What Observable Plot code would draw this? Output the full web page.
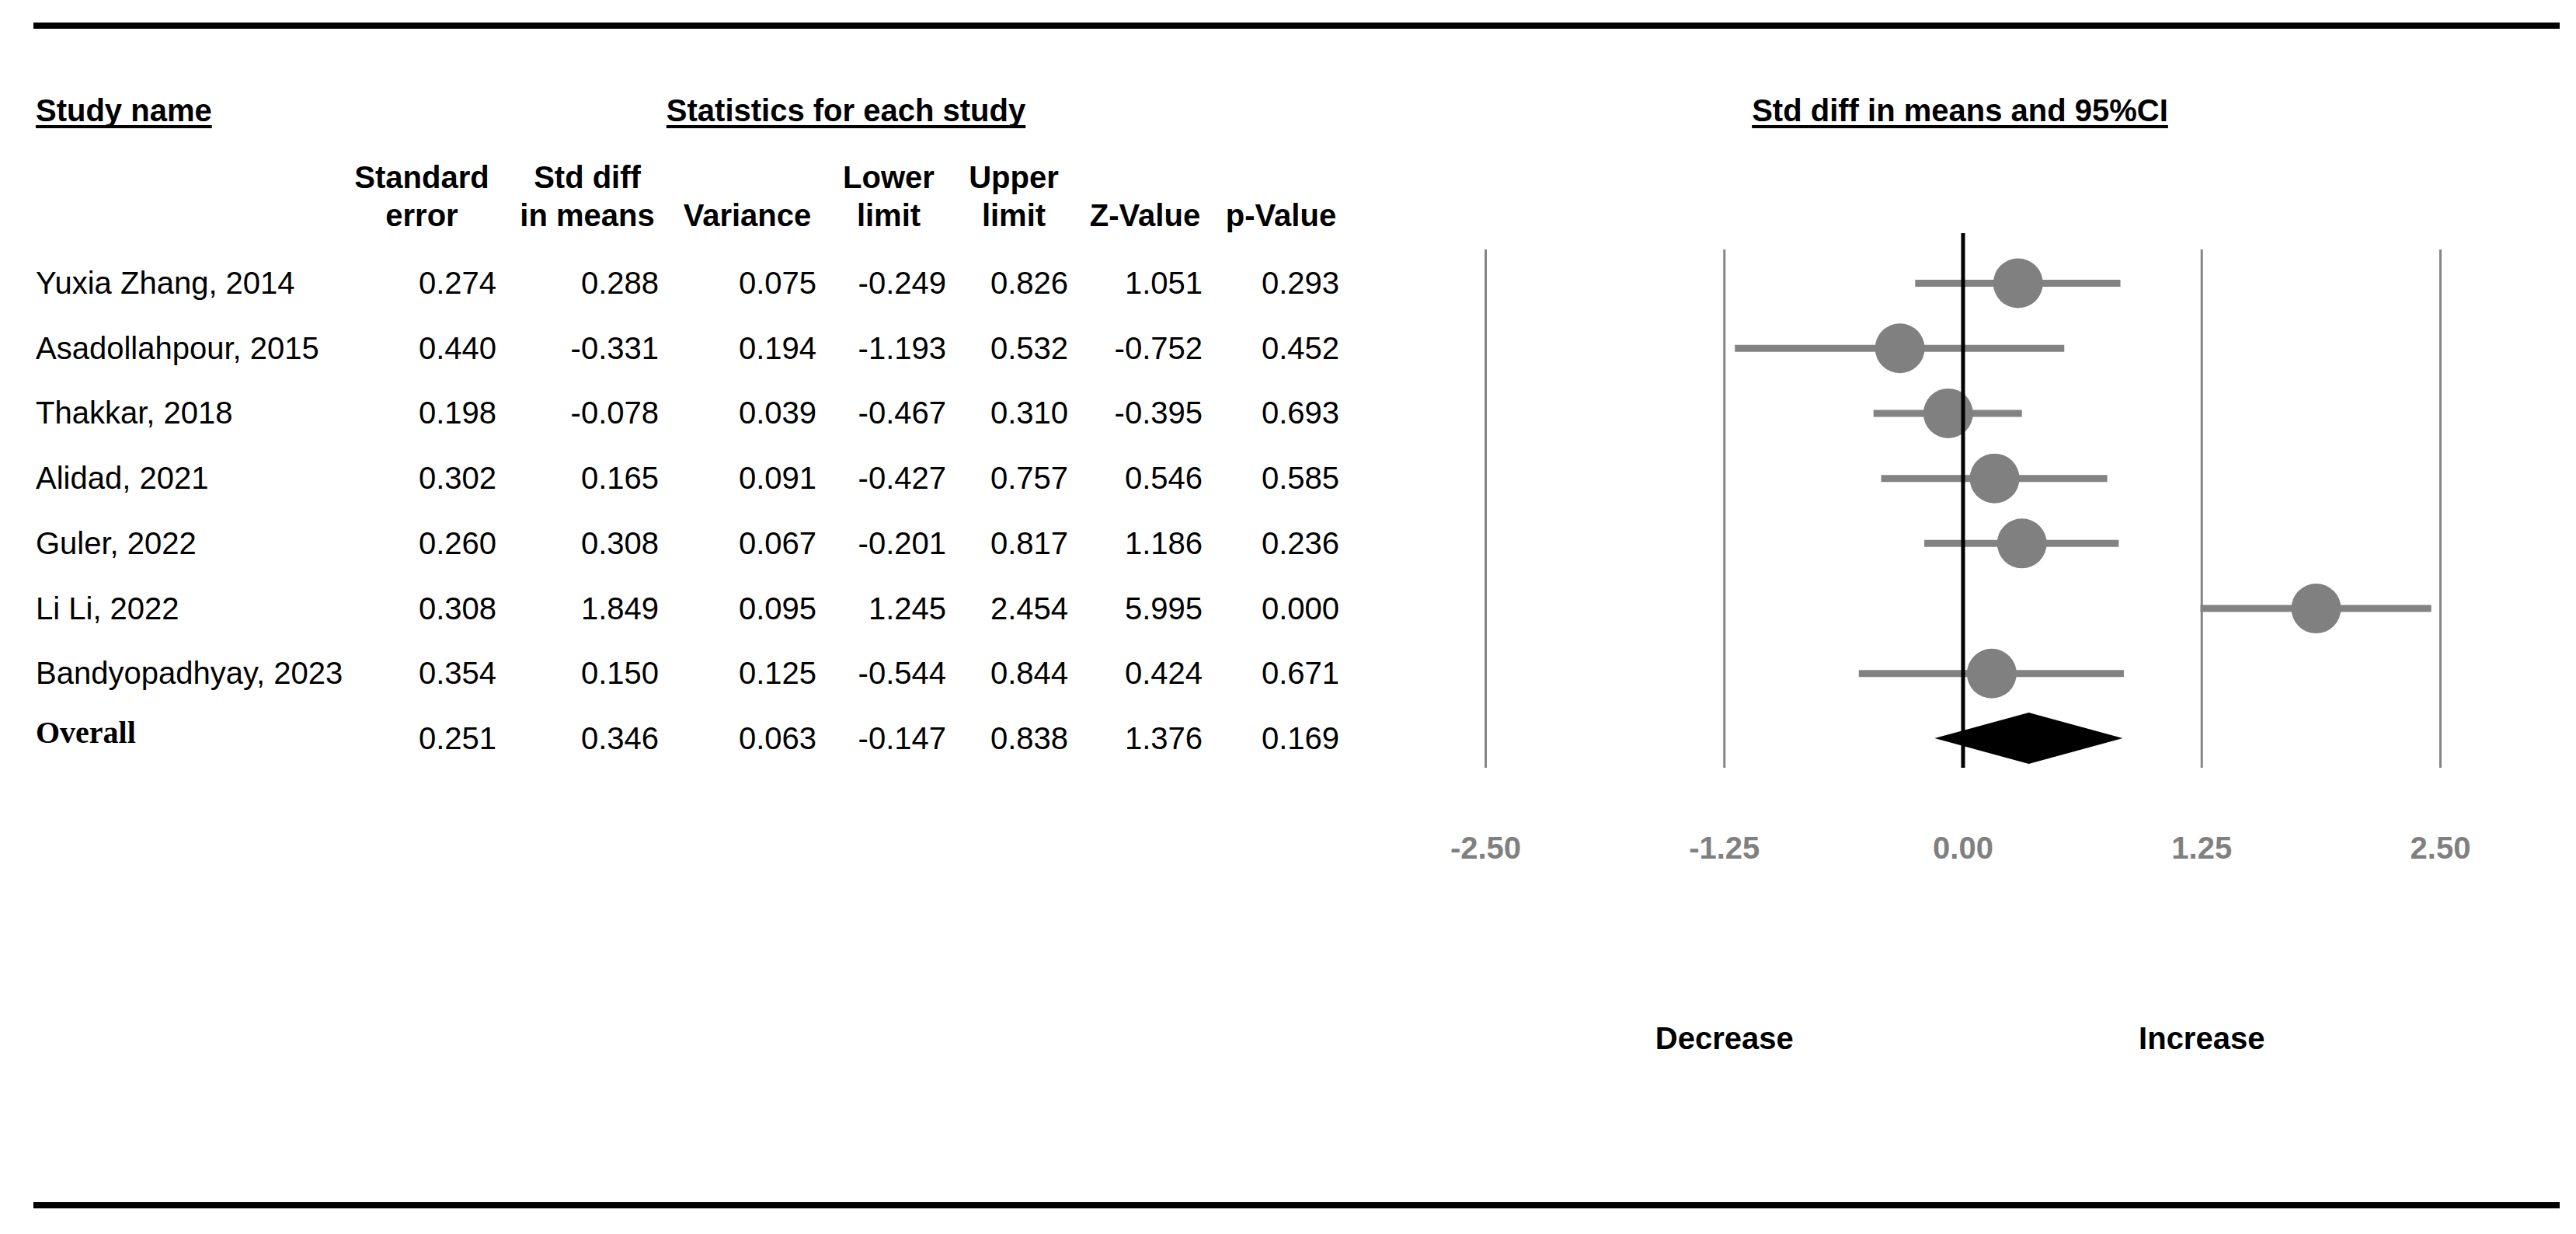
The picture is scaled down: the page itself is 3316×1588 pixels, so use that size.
<!DOCTYPE html>
<html>
<head>
<meta charset="utf-8">
<script src="https://cdn.jsdelivr.net/npm/d3@7"></script>
<script src="https://cdn.jsdelivr.net/npm/@observablehq/plot@0.6"></script>
<style>
html, body { margin: 0; padding: 0; background: #fff; }
#page { position: relative; width: 3316px; height: 1588px; overflow: hidden; background: #fff;
  font-family: "Liberation Sans", Arial, Helvetica, sans-serif; color: #000; }
#page svg { position: absolute; left: 0; top: 0; }
.rule { position: absolute; background: #000; }
.t { position: absolute; font-size: 40px; line-height: 40px; white-space: nowrap; }
.b { font-weight: bold; }
.u { text-decoration: underline; text-decoration-thickness: 4px; text-underline-offset: 5px; text-decoration-skip-ink: none; }
.serif { font-family: "Liberation Serif", "Times New Roman", serif; font-weight: bold; }
</style>
</head>
<body>
<div id="page"></div>
<script>
// ---- data ----
const studies = ["Yuxia Zhang, 2014", "Asadollahpour, 2015", "Thakkar, 2018", "Alidad, 2021",
  "Guler, 2022", "Li Li, 2022", "Bandyopadhyay, 2023", "Overall"];
const stdError = [0.274, 0.440, 0.198, 0.302, 0.260, 0.308, 0.354, 0.251];
const stdDiff  = [0.288, -0.331, -0.078, 0.165, 0.308, 1.849, 0.150, 0.346];
const variance = [0.075, 0.194, 0.039, 0.091, 0.067, 0.095, 0.125, 0.063];
const lowerLimit = [-0.249, -1.193, -0.467, -0.427, -0.201, 1.245, -0.544, -0.147];
const upperLimit = [0.826, 0.532, 0.310, 0.757, 0.817, 2.454, 0.844, 0.838];
const zValue = [1.051, -0.752, -0.395, 0.546, 1.186, 5.995, 0.424, 1.376];
const pValue = [0.293, 0.452, 0.693, 0.585, 0.236, 0.000, 0.671, 0.169];
const tickValues = [-2.5, -1.25, 0, 1.25, 2.5];
const effectLabels = [{label: "Decrease", x: -1.25}, {label: "Increase", x: 1.25}];

const columns = [
  {h1: "Standard", h2: "error", values: stdError},
  {h1: "Std diff", h2: "in means", values: stdDiff},
  {h1: "", h2: "Variance", values: variance},
  {h1: "Lower", h2: "limit", values: lowerLimit},
  {h1: "Upper", h2: "limit", values: upperLimit},
  {h1: "", h2: "Z-Value", values: zValue},
  {h1: "", h2: "p-Value", values: pValue}
];

// ---- layout (pixels) ----
const colRight = [639, 848, 1051, 1218, 1375, 1548, 1724];
const colCenter = [543, 756, 962, 1144, 1305, 1474, 1649];

const rows = studies.map((name, i) => ({
  name, i, smd: stdDiff[i], lower: lowerLimit[i], upper: upperLimit[i]
}));
const studyRows = rows.slice(0, 7);
const overall = rows[7];
const diamondHalf = 0.395;
const diamond = [
  {y: overall.i - diamondHalf, x1: overall.smd, x2: overall.smd},
  {y: overall.i, x1: overall.lower, x2: overall.upper},
  {y: overall.i + diamondHalf, x1: overall.smd, x2: overall.smd}
];
const gridTicks = tickValues.filter(d => d !== 0);
const fmt = d => d.toFixed(2);

const plot = Plot.plot({
  width: 3316,
  height: 1588,
  marginLeft: 1912,
  marginRight: 175,
  marginTop: 300,
  marginBottom: 600,
  x: {domain: [-2.5, 2.5], axis: null},
  y: {domain: [0, 7], range: [364, 950], axis: null},
  style: {fontFamily: "'Liberation Sans', Arial, sans-serif", fontSize: "40px", background: "transparent", overflow: "visible"},
  marks: [
    Plot.ruleX(gridTicks, {x: d => d, stroke: "#858585", strokeWidth: 3, insetTop: 21}),
    Plot.ruleY(studyRows, {y: "i", x1: "lower", x2: "upper", stroke: "#828282", strokeWidth: 9}),
    Plot.dot(studyRows, {x: "smd", y: "i", r: 32, fill: "#808080", stroke: "none"}),
    Plot.areaX(diamond, {y: "y", x1: "x1", x2: "x2", fill: "#000"}),
    Plot.ruleX([0], {x: d => d, stroke: "#000", strokeWidth: 5}),
    Plot.text(tickValues, {x: d => d, text: fmt, frameAnchor: "bottom", lineAnchor: "top", dy: 88,
      fill: "#808080", fontWeight: "bold", fontSize: 40}),
    Plot.text(effectLabels, {x: "x", text: "label", frameAnchor: "bottom", lineAnchor: "top", dy: 333,
      fill: "#000", fontWeight: "bold", fontSize: 40})
  ]
});

const page = document.getElementById("page");
page.appendChild(plot);

const yScale = plot.scale("y");
const yPos = i => yScale.apply(i);

function addRule(top, left, width, height) {
  const d = document.createElement("div");
  d.className = "rule";
  Object.assign(d.style, {top: top + "px", left: left + "px", width: width + "px", height: height + "px"});
  page.appendChild(d);
}
function addText(txt, opts) {
  const d = document.createElement("div");
  d.className = "t " + (opts.cls || "");
  d.textContent = txt;
  const top = opts.y - 20 + (opts.dy || 0);
  d.style.top = top + "px";
  if (opts.left != null) { d.style.left = opts.left + "px"; }
  else if (opts.right != null) { d.style.right = (3316 - opts.right) + "px"; d.style.textAlign = "right"; }
  else if (opts.center != null) { d.style.left = (opts.center - 400) + "px"; d.style.width = "800px"; d.style.textAlign = "center"; }
  page.appendChild(d);
  return d;
}

addRule(29, 43, 3252, 8);
addRule(1547, 43, 3252, 8);

// section headers
addText("Study name", {left: 46, y: 142, cls: "b u"});
addText("Statistics for each study", {center: 1089, y: 142, cls: "b u"});
addText("Std diff in means and 95%CI", {center: 2523, y: 142, cls: "b u"});

// column headers
columns.forEach((c, j) => {
  if (c.h1) addText(c.h1, {center: colCenter[j], y: 228, cls: "b"});
  addText(c.h2, {center: colCenter[j], y: 277, cls: "b"});
});

// rows
rows.forEach((r, i) => {
  const y = yPos(i);
  if (i === 7) addText(r.name, {left: 46, y: y, dy: -7, cls: "serif"});
  else addText(r.name, {left: 46, y: y});
  columns.forEach((c, j) => {
    addText(c.values[i].toFixed(3), {right: colRight[j], y: y});
  });
});
</script>
</body>
</html>
